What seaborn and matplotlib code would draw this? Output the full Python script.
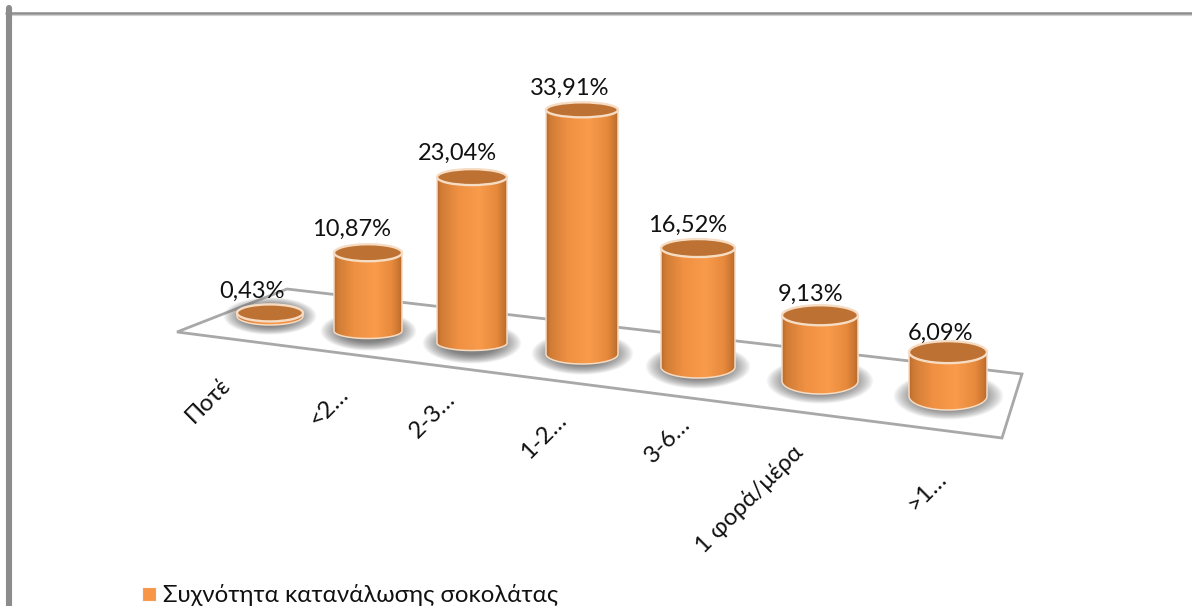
import numpy as np
import pandas as pd
import matplotlib
matplotlib.use("Agg")
import matplotlib.pyplot as plt
from matplotlib.colors import LinearSegmentedColormap
from matplotlib.lines import Line2D
from matplotlib.patches import Ellipse, PathPatch, Polygon
from matplotlib.path import Path
import seaborn as sns

# Chart data
categories = ["Ποτέ", "<2…", "2-3…", "1-2…", "3-6…", "1 φορά/μέρα", ">1…"]
values = [0.43, 10.87, 23.04, 33.91, 16.52, 9.13, 6.09]
series_name = "Συχνότητα κατανάλωσης σοκολάτας"

# Perspective layout of the 3D floor, in pixels
W, H = 1192, 606
PX_PER_UNIT = 7.2
base_rows = [316, 331, 343, 354, 367, 381, 396]
top_minor = [8.5, 8.5, 8.0, 7.5, 9.0, 10.0, 11.0]
base_minor = [9.0, 7.5, 7.5, 10.0, 11.0, 13.0, 14.0]
label_lift = [22, 23, 24, 22, 23, 21, 19]
floor_px = [(177, 332), (287, 289), (1022, 374), (1002, 438)]
tick_anchor_px = [(220, 374), (337, 384), (445, 388), (556, 409),
                  (680, 413), (792, 441), (936, 468)]


def to_y(py):
    """Convert a pixel row into the axis' value units."""
    return (H - py) / PX_PER_UNIT


centers = [270 + 95 * i + 3 * i * i for i in range(len(values))]
half_widths = [33 + 1.0 * i for i in range(len(values))]

sns.set_theme(style="white")
plt.rcParams["font.family"] = ["Lato", "Open Sans", "DejaVu Sans"]

body_cmap = LinearSegmentedColormap.from_list(
    "cylinder",
    [(0.0, "#B86A2C"), (0.06, "#D07C36"), (0.3, "#EF9042"),
     (0.6, "#F99B4B"), (0.85, "#E88A3D"), (0.96, "#C87530"), (1.0, "#B5682B")],
)
RIM = "#F6DCC3"
CAP = "#BD7133"
ORANGE = "#F79646"
FRAME = "#8C8C8C"

fig = plt.figure(figsize=(W / 100, H / 100), dpi=100, facecolor="white")
ax = fig.add_axes([0, 0, 1, 1])

df = pd.DataFrame({"pos": centers, "value": values})
sns.barplot(data=df, x="pos", y="value", native_scale=True, color=ORANGE,
            saturation=1, ax=ax, bottom=[to_y(r) for r in base_rows],
            width=60, zorder=5, label=series_name, legend=False)
bars = list(ax.patches)

# Floor of the chart
ax.add_patch(Polygon([(x, to_y(y)) for x, y in floor_px], closed=True, fill=False,
                     edgecolor="#A8A8A8", lw=2.0, joinstyle="miter", zorder=1))

gradient = np.linspace(0, 1, 256)[None, :]
for i, patch in enumerate(bars):
    cx, hw = centers[i], half_widths[i]
    patch.set_x(cx - hw)
    patch.set_width(2 * hw)
    y_base = patch.get_y()
    y_top = y_base + patch.get_height()
    b_top = top_minor[i] / PX_PER_UNIT
    b_base = base_minor[i] / PX_PER_UNIT

    # Soft contact shadow on the floor
    sx, sy = hw * 1.42, 19 + i * 0.8
    gx, gy = np.meshgrid(np.linspace(-1, 1, 160), np.linspace(-1, 1, 90))
    alpha = np.clip(1 - gx ** 2 - gy ** 2, 0, 1) ** 0.9 * 1.15
    rgba = np.zeros(alpha.shape + (4,))
    rgba[..., :3] = 0.42
    rgba[..., 3] = np.clip(alpha, 0, 0.85)
    ax.imshow(rgba, extent=(cx - sx, cx + sx, y_base - sy / PX_PER_UNIT,
                            y_base + sy / PX_PER_UNIT),
              aspect="auto", zorder=2, interpolation="bilinear")

    # Cylinder side: straight walls closed by the front half of the base ellipse
    theta = np.linspace(np.pi, 2 * np.pi, 60)
    outline = [(cx - hw, y_top)]
    outline += list(zip(cx + hw * np.cos(theta), y_base + b_base * np.sin(theta)))
    outline += [(cx + hw, y_top), (cx - hw, y_top)]
    side = Path(outline)
    patch.set_visible(False)
    img = ax.imshow(gradient, cmap=body_cmap, extent=(cx - hw, cx + hw, y_base - b_base, y_top),
                    aspect="auto", zorder=6)
    clip = PathPatch(side, transform=ax.transData, facecolor="none", edgecolor="none")
    ax.add_patch(clip)
    img.set_clip_path(clip)
    ax.add_patch(PathPatch(side, facecolor="none", edgecolor=RIM, lw=1.1, zorder=7))

    # Cap
    ax.add_patch(Ellipse((cx, y_top), 2 * hw, 2 * b_top, facecolor=CAP,
                         edgecolor=RIM, lw=1.7, zorder=8))

    # Value label
    ax.text(cx - 18 + 1.8 * i, y_top + label_lift[i] / PX_PER_UNIT,
            f"{values[i]:.2f}%".replace(".", ","),
            ha="center", va="center", fontsize=17, color="#111111", zorder=10)

    # Category label
    tx, ty = tick_anchor_px[i]
    ax.text(tx, to_y(ty), categories[i], rotation=45, rotation_mode="anchor",
            ha="right", va="top", fontsize=17.2, color="#111111", zorder=10)

# Outer frame, open on the right and at the bottom
ax.add_line(Line2D([6, W], [to_y(13.2)] * 2, color=FRAME, lw=1.8, zorder=3))
ax.add_line(Line2D([6, W], [to_y(14.8)] * 2, color="#D0D0D0", lw=0.8, zorder=2))
ax.add_line(Line2D([9, 9], [to_y(8), to_y(H)], color=FRAME, lw=4.4, zorder=3))

# Legend
handle = Line2D([], [], marker="s", ls="none", markersize=9.5, color=ORANGE,
                markeredgecolor="#F9F9F9", markeredgewidth=0.8)
ax.legend([handle], [series_name], loc="lower left",
          bbox_to_anchor=(123 / W, -17 / H), frameon=False, fontsize=17.3,
          handlelength=0.8, handletextpad=0.15, borderpad=0.2, labelcolor="#111111")

ax.set_xlim(0, W)
ax.set_ylim(0, H / PX_PER_UNIT)
ax.axis("off")
fig.savefig("out.png", dpi=100, facecolor="white")
